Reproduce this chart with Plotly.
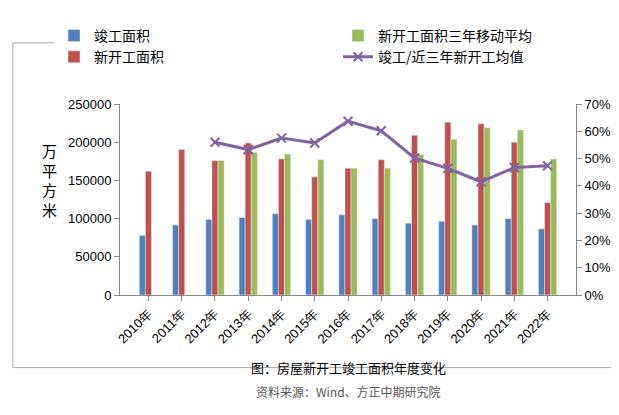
import plotly.graph_objects as go

years = [f"{y}年" for y in range(2010, 2023)]
completed = [78000, 91600, 99000, 101500, 106400, 99000, 105000, 100000, 94000, 96500, 91600, 100000, 86600]
started = [162000, 190600, 175700, 199000, 178000, 154700, 166000, 177000, 209000, 226000, 224000, 200000, 121000]
started_avg3 = [None, None, 176000, 187000, 184400, 177000, 166000, 166000, 184000, 204000, 219000, 216000, 178000]
ratio = [None, None, 0.56, 0.533, 0.575, 0.557, 0.637, 0.602, 0.502, 0.464, 0.415, 0.467, 0.474]

fig = go.Figure()
fig.add_trace(go.Bar(x=years, y=completed, name="竣工面积", marker_color="#4F81BD", legendrank=1))
fig.add_trace(go.Bar(x=years, y=started, name="新开工面积", marker_color="#C0504D", legendrank=3))
fig.add_trace(go.Bar(x=years, y=started_avg3, name="新开工面积三年移动平均", marker_color="#9BBB59", legendrank=2))
fig.add_trace(go.Scatter(x=years, y=ratio, name="竣工/近三年新开工均值", yaxis="y2",
                         mode="lines+markers", line=dict(color="#8064A2", width=3),
                         marker=dict(symbol="x-thin", size=9, line=dict(color="#8064A2", width=2)),
                         legendrank=4))

fig.update_layout(
    width=619, height=415,
    margin=dict(l=112, r=51, t=72, b=128),
    plot_bgcolor="white", paper_bgcolor="white",
    font=dict(family="Noto Sans CJK SC", size=12, color="black"),
    barmode="group", bargap=0.45, bargroupgap=0,
    showlegend=True,
    legend=dict(orientation="h", x=-0.05, y=1.44, xanchor="left", yanchor="top",
                entrywidth=0.5, entrywidthmode="fraction", font=dict(size=14),
                traceorder="normal"),
    xaxis=dict(tickangle=-45, showline=True, linecolor="#888", ticks="outside",
               tickcolor="#888", tickfont=dict(family="Liberation Sans", size=13)),
    yaxis=dict(range=[0, 250000], dtick=50000, showgrid=False, showline=True,
               linecolor="#888", ticks="outside", tickcolor="#888", tickformat="d",
               tickfont=dict(family="Liberation Sans", size=13)),
    yaxis2=dict(range=[0, 0.7], dtick=0.1, overlaying="y", side="right", showgrid=False,
                showline=True, linecolor="#888", ticks="outside", tickcolor="#888",
                tickformat=".0%", tickfont=dict(family="Liberation Sans", size=13)),
    annotations=[
        dict(text="万<br>平<br>方<br>米", x=-0.175, y=0.6, xref="paper", yref="paper",
             showarrow=False, font=dict(size=15), align="center"),
        dict(text="图：房屋新开工竣工面积年度变化", x=0.5, y=-0.44, xref="paper", yref="paper",
             showarrow=False, font=dict(size=13)),
        dict(text="资料来源：Wind、方正中期研究院", x=0.5, y=-0.56, xref="paper", yref="paper",
             showarrow=False, font=dict(size=12, color="#555")),
    ],
    shapes=[dict(type="rect", xref="paper", yref="paper", x0=-0.235, x1=1.1, y0=-0.38, y1=1.32,
                 line=dict(color="#aaa", width=1))],
)
fig.write_html("out.html")
